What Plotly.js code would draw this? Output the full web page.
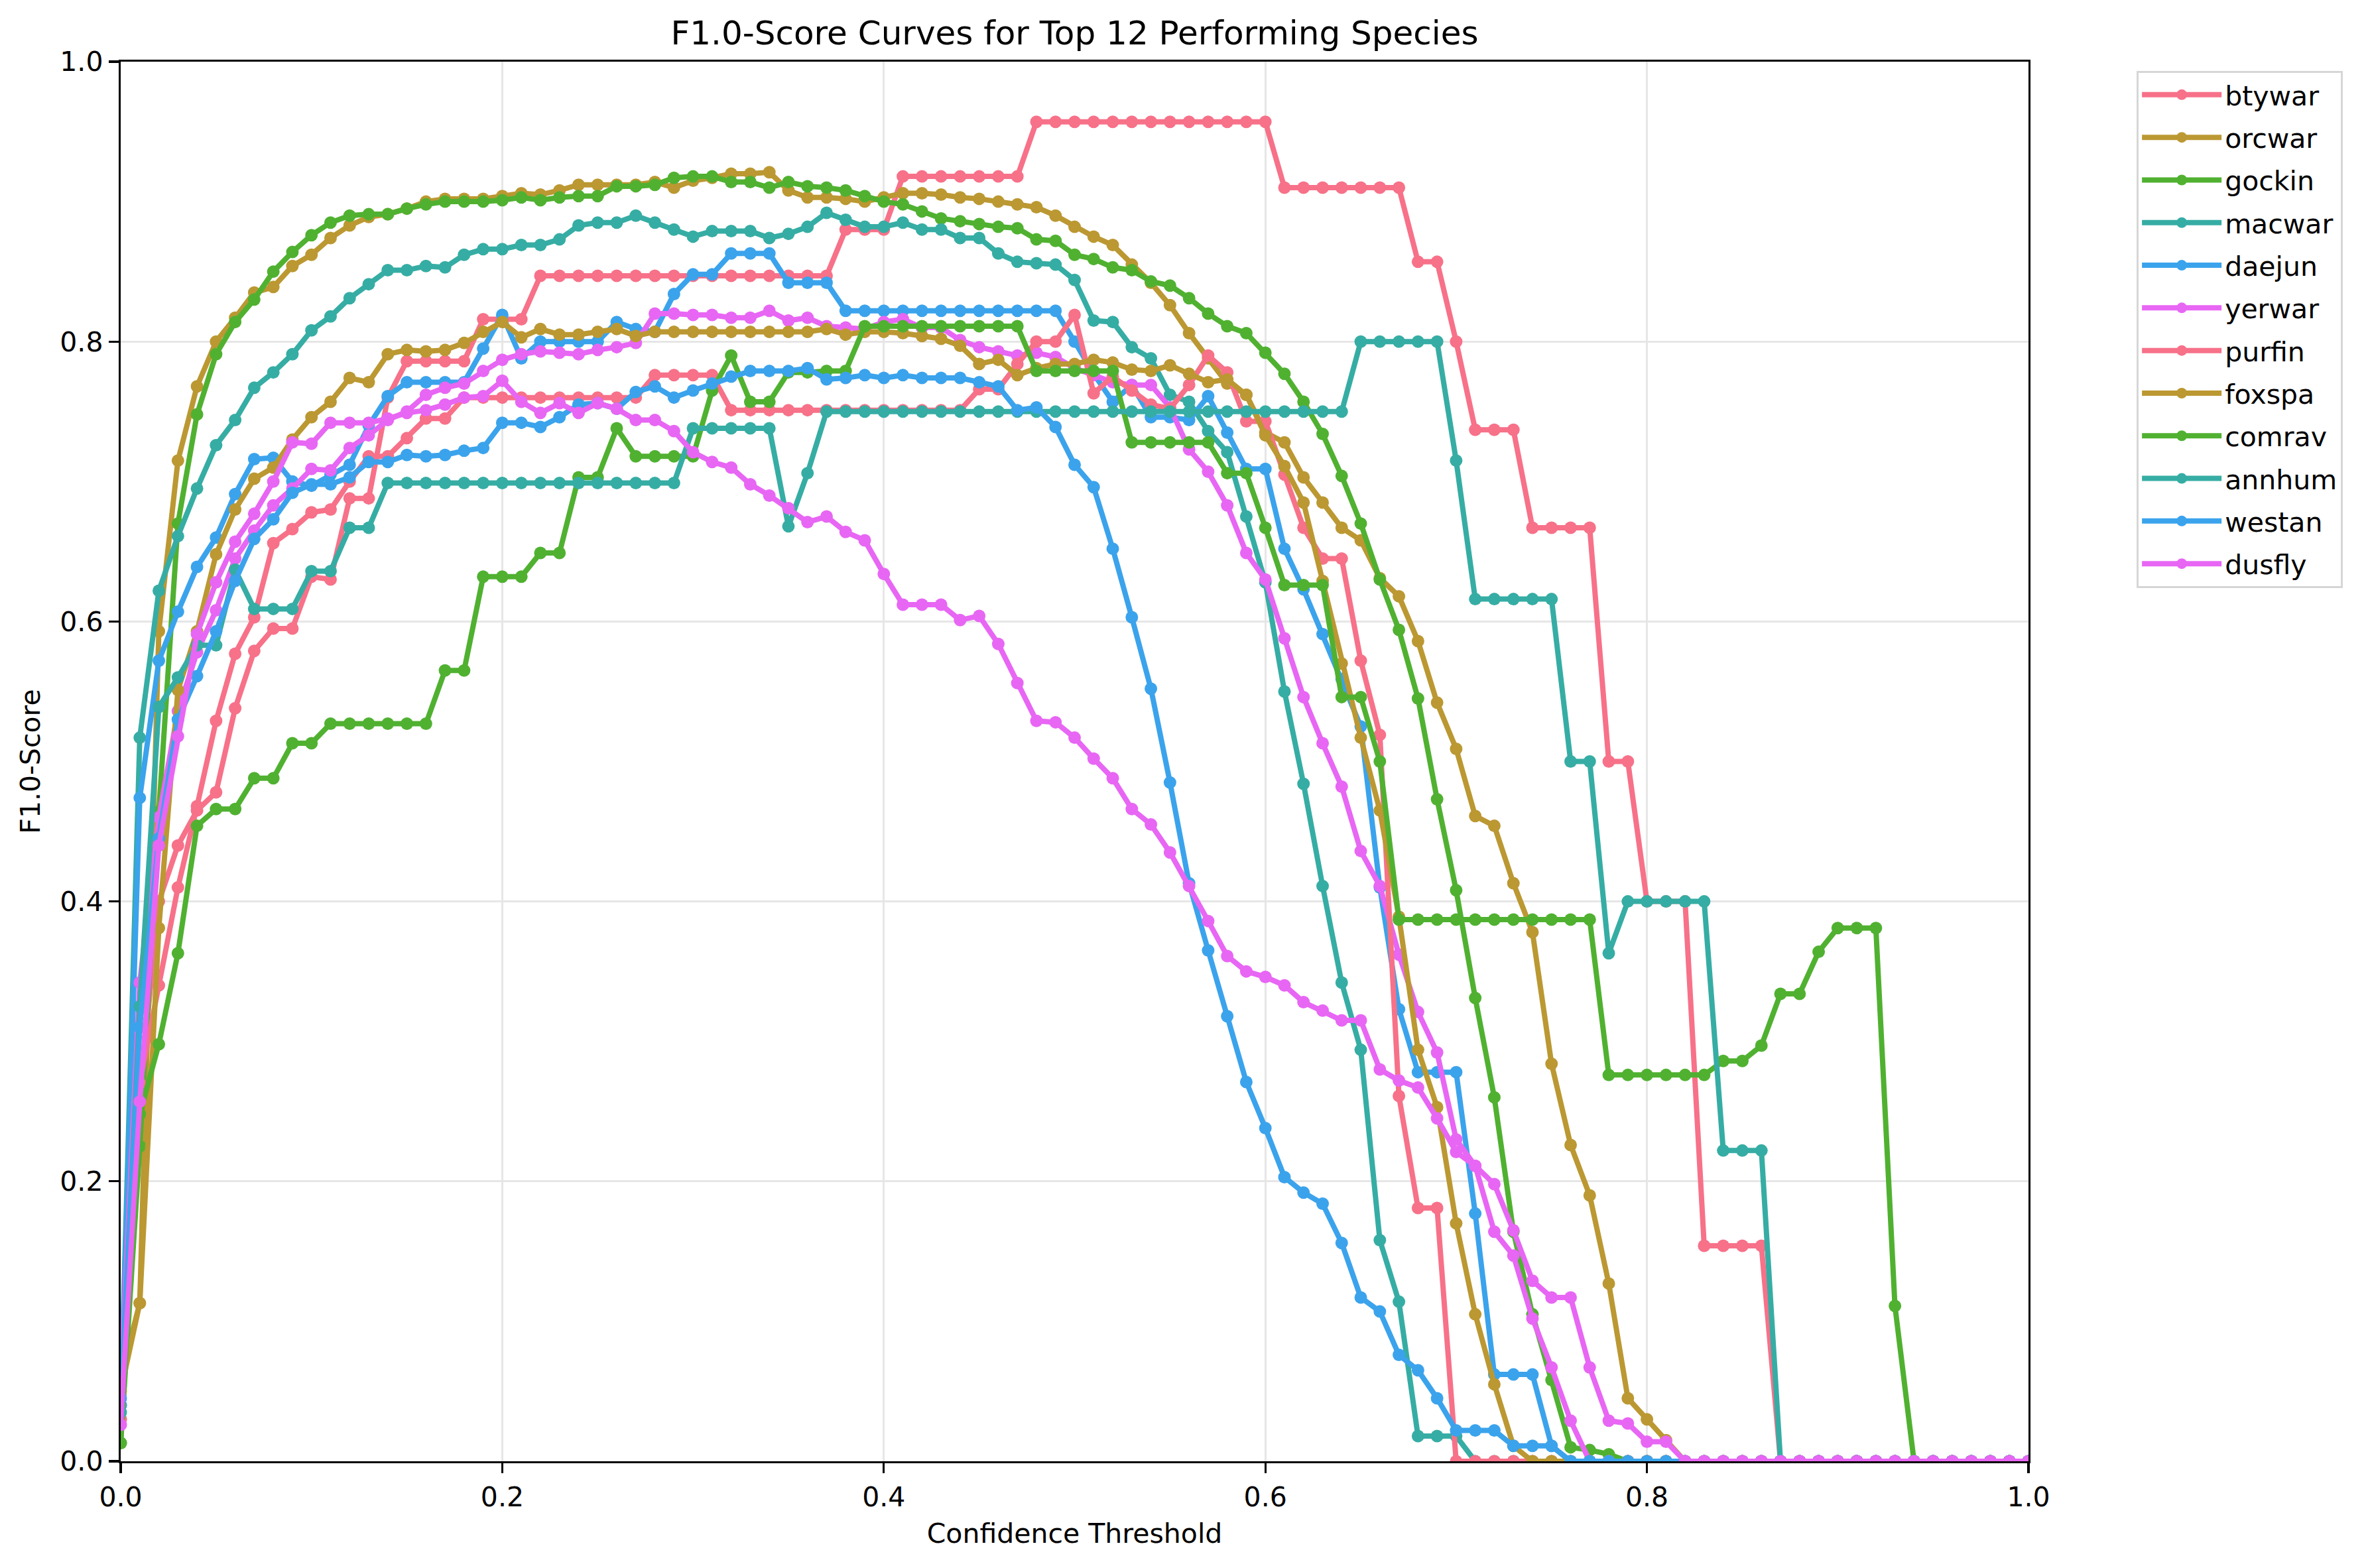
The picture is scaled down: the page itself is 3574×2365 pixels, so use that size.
<!DOCTYPE html>
<html>
<head>
<meta charset="utf-8">
<script src="https://cdn.plot.ly/plotly-3.0.1.min.js"></script>
<style>
  html, body { margin: 0; padding: 0; background: #ffffff; }
  #chart { width: 3574px; height: 2365px; }
</style>
</head>
<body>
<div id="chart"></div>
<script>
// Confidence thresholds shared by every species curve
const thresholds = [
  0.00,0.01,0.02,0.03,0.04,0.05,0.06,0.07,0.08,0.09,
  0.10,0.11,0.12,0.13,0.14,0.15,0.16,0.17,0.18,0.19,
  0.20,0.21,0.22,0.23,0.24,0.25,0.26,0.27,0.28,0.29,
  0.30,0.31,0.32,0.33,0.34,0.35,0.36,0.37,0.38,0.39,
  0.40,0.41,0.42,0.43,0.44,0.45,0.46,0.47,0.48,0.49,
  0.50,0.51,0.52,0.53,0.54,0.55,0.56,0.57,0.58,0.59,
  0.60,0.61,0.62,0.63,0.64,0.65,0.66,0.67,0.68,0.69,
  0.70,0.71,0.72,0.73,0.74,0.75,0.76,0.77,0.78,0.79,
  0.80,0.81,0.82,0.83,0.84,0.85,0.86,0.87,0.88,0.89,
  0.90,0.91,0.92,0.93,0.94,0.95,0.96,0.97,0.98,0.99,
  1.00
];

// F1.0-score per threshold, one list per species
const btywar = [
  0.03,0.26,0.40,0.44,0.465,0.478,0.538,0.579,0.595,0.595,
  0.632,0.630,0.688,0.688,0.760,0.786,0.786,0.786,0.786,0.816,
  0.816,0.816,0.847,0.847,0.847,0.847,0.847,0.847,0.847,0.847,
  0.847,0.847,0.847,0.847,0.847,0.847,0.847,0.847,0.880,0.880,
  0.880,0.918,0.918,0.918,0.918,0.918,0.918,0.918,0.957,0.957,
  0.957,0.957,0.957,0.957,0.957,0.957,0.957,0.957,0.957,0.957,
  0.957,0.910,0.910,0.910,0.910,0.910,0.910,0.910,0.857,0.857,
  0.800,0.737,0.737,0.737,0.667,0.667,0.667,0.667,0.500,0.500,
  0.400,0.400,0.400,0.154,0.154,0.154,0.154,0,0,0,
  0,0,0,0,0,0,0,0,0,0,
  0
];
const orcwar = [
  0.06,0.113,0.593,0.715,0.768,0.800,0.817,0.835,0.839,0.854,
  0.862,0.874,0.883,0.889,0.891,0.895,0.900,0.902,0.902,0.902,
  0.904,0.906,0.905,0.908,0.912,0.912,0.912,0.912,0.914,0.910,
  0.915,0.917,0.920,0.920,0.921,0.908,0.903,0.903,0.902,0.900,
  0.903,0.906,0.906,0.905,0.903,0.902,0.900,0.898,0.896,0.890,
  0.882,0.875,0.869,0.855,0.842,0.826,0.806,0.788,0.770,0.762,
  0.735,0.728,0.703,0.685,0.667,0.658,0.631,0.618,0.586,0.542,
  0.509,0.461,0.454,0.413,0.378,0.284,0.226,0.190,0.127,0.045,
  0.030,0.015,0,0,0,0,0,0,0,0,
  0,0,0,0,0,0,0,0,0,0,
  0
];
const gockin = [
  0.013,0.225,0.464,0.670,0.748,0.791,0.814,0.830,0.850,0.864,
  0.876,0.885,0.890,0.891,0.891,0.895,0.898,0.900,0.900,0.900,
  0.901,0.903,0.901,0.903,0.904,0.904,0.911,0.911,0.912,0.917,
  0.918,0.918,0.914,0.914,0.910,0.914,0.911,0.910,0.908,0.904,
  0.900,0.898,0.893,0.888,0.886,0.884,0.882,0.881,0.873,0.872,
  0.862,0.859,0.853,0.851,0.843,0.840,0.831,0.820,0.811,0.806,
  0.792,0.777,0.757,0.734,0.704,0.670,0.630,0.594,0.545,0.473,
  0.408,0.331,0.260,0.164,0.105,0.058,0.010,0.008,0.005,0,
  0,0,0,0,0,0,0,0,0,0,
  0,0,0,0,0,0,0,0,0,0,
  0
];
const macwar = [
  0.04,0.517,0.622,0.661,0.695,0.726,0.744,0.767,0.778,0.791,
  0.808,0.818,0.831,0.841,0.851,0.851,0.854,0.853,0.862,0.866,
  0.866,0.869,0.869,0.873,0.883,0.885,0.885,0.890,0.885,0.880,
  0.875,0.879,0.879,0.879,0.874,0.877,0.882,0.892,0.887,0.882,
  0.882,0.885,0.880,0.880,0.874,0.874,0.863,0.857,0.856,0.855,
  0.844,0.815,0.814,0.796,0.788,0.762,0.757,0.736,0.721,0.675,
  0.628,0.550,0.484,0.411,0.342,0.294,0.158,0.114,0.018,0.018,
  0.018,0,0,0,0,0,0,0,0,0,
  0,0,0,0,0,0,0,0,0,0,
  0,0,0,0,0,0,0,0,0,0,
  0
];
const daejun = [
  0.04,0.474,0.572,0.607,0.639,0.660,0.691,0.716,0.717,0.700,
  0.697,0.705,0.712,0.740,0.761,0.771,0.771,0.771,0.771,0.795,
  0.819,0.788,0.800,0.800,0.800,0.800,0.814,0.809,0.807,0.834,
  0.848,0.848,0.863,0.863,0.863,0.842,0.842,0.842,0.822,0.822,
  0.822,0.822,0.822,0.822,0.822,0.822,0.822,0.822,0.822,0.822,
  0.800,0.777,0.757,0.769,0.746,0.746,0.744,0.761,0.735,0.709,
  0.709,0.652,0.623,0.591,0.559,0.525,0.410,0.323,0.278,0.278,
  0.278,0.177,0.062,0.062,0.062,0.011,0,0,0,0,
  0,0,0,0,0,0,0,0,0,0,
  0,0,0,0,0,0,0,0,0,0,
  0
];
const yerwar = [
  0.054,0.342,0.46,0.536,0.578,0.608,0.645,0.665,0.683,0.695,
  0.709,0.708,0.724,0.733,0.744,0.750,0.762,0.767,0.770,0.779,
  0.787,0.791,0.793,0.792,0.791,0.794,0.796,0.799,0.820,0.820,
  0.819,0.819,0.817,0.817,0.822,0.815,0.817,0.811,0.810,0.809,
  0.814,0.816,0.810,0.810,0.801,0.796,0.793,0.790,0.792,0.789,
  0.781,0.776,0.771,0.769,0.769,0.753,0.723,0.707,0.683,0.649,
  0.630,0.588,0.546,0.513,0.482,0.436,0.411,0.362,0.321,0.292,
  0.230,0.211,0.164,0.147,0.102,0.067,0.029,0,0,0,
  0,0,0,0,0,0,0,0,0,0,
  0,0,0,0,0,0,0,0,0,0,
  0
];
const purfin = [
  0.03,0.27,0.34,0.41,0.468,0.529,0.577,0.603,0.656,0.666,
  0.678,0.680,0.700,0.718,0.718,0.731,0.745,0.745,0.760,0.760,
  0.760,0.760,0.760,0.760,0.760,0.760,0.760,0.760,0.776,0.776,
  0.776,0.776,0.751,0.751,0.751,0.751,0.751,0.751,0.751,0.751,
  0.751,0.751,0.751,0.751,0.751,0.766,0.766,0.784,0.800,0.800,
  0.819,0.763,0.775,0.765,0.755,0.752,0.769,0.790,0.778,0.743,
  0.743,0.705,0.667,0.645,0.645,0.572,0.519,0.261,0.181,0.181,
  0,0,0,0,0,0,0,0,0,0,
  0,0,0,0,0,0,0,0,0,0,
  0,0,0,0,0,0,0,0,0,0,
  0
];
const foxspa = [
  0.05,0.113,0.381,0.551,0.593,0.648,0.680,0.702,0.710,0.730,
  0.746,0.757,0.774,0.771,0.791,0.794,0.793,0.794,0.799,0.807,
  0.814,0.803,0.809,0.805,0.805,0.807,0.809,0.804,0.807,0.807,
  0.807,0.807,0.807,0.807,0.807,0.807,0.807,0.809,0.805,0.807,
  0.807,0.806,0.804,0.802,0.797,0.784,0.787,0.776,0.781,0.784,
  0.784,0.787,0.785,0.780,0.779,0.783,0.777,0.771,0.773,0.762,
  0.733,0.711,0.685,0.629,0.570,0.517,0.465,0.389,0.294,0.253,
  0.170,0.105,0.055,0.011,0,0,0,0,0,0,
  0,0,0,0,0,0,0,0,0,0,
  0,0,0,0,0,0,0,0,0,0,
  0
];
const comrav = [
  0.013,0.248,0.298,0.363,0.454,0.466,0.466,0.488,0.488,0.513,
  0.513,0.527,0.527,0.527,0.527,0.527,0.527,0.565,0.565,0.632,
  0.632,0.632,0.649,0.649,0.703,0.703,0.738,0.718,0.718,0.718,
  0.718,0.765,0.790,0.757,0.757,0.778,0.778,0.779,0.779,0.811,
  0.811,0.811,0.811,0.811,0.811,0.811,0.811,0.811,0.779,0.779,
  0.779,0.779,0.779,0.728,0.728,0.728,0.728,0.728,0.706,0.706,
  0.667,0.626,0.626,0.626,0.546,0.546,0.500,0.387,0.387,0.387,
  0.387,0.387,0.387,0.387,0.387,0.387,0.387,0.387,0.276,0.276,
  0.276,0.276,0.276,0.276,0.286,0.286,0.297,0.334,0.334,0.364,
  0.381,0.381,0.381,0.111,0,0,0,0,0,0,
  0
];
const annhum = [
  0.035,0.325,0.539,0.560,0.583,0.583,0.637,0.609,0.609,0.609,
  0.636,0.636,0.667,0.667,0.699,0.699,0.699,0.699,0.699,0.699,
  0.699,0.699,0.699,0.699,0.699,0.699,0.699,0.699,0.699,0.699,
  0.738,0.738,0.738,0.738,0.738,0.668,0.706,0.750,0.750,0.750,
  0.750,0.750,0.750,0.750,0.750,0.750,0.750,0.750,0.750,0.750,
  0.750,0.750,0.750,0.750,0.750,0.750,0.750,0.750,0.750,0.750,
  0.750,0.750,0.750,0.750,0.750,0.800,0.800,0.800,0.800,0.800,
  0.715,0.616,0.616,0.616,0.616,0.616,0.500,0.500,0.363,0.400,
  0.400,0.400,0.400,0.400,0.222,0.222,0.222,0,0,0,
  0,0,0,0,0,0,0,0,0,0,
  0
];
const westan = [
  0.045,0.31,0.445,0.53,0.561,0.593,0.629,0.659,0.673,0.692,
  0.698,0.698,0.703,0.714,0.714,0.719,0.718,0.719,0.722,0.724,
  0.742,0.742,0.739,0.746,0.755,0.756,0.752,0.764,0.768,0.760,
  0.765,0.770,0.775,0.779,0.779,0.779,0.781,0.773,0.774,0.776,
  0.774,0.776,0.774,0.774,0.774,0.771,0.768,0.751,0.753,0.739,
  0.712,0.696,0.652,0.603,0.552,0.485,0.413,0.365,0.318,0.271,
  0.238,0.203,0.192,0.184,0.156,0.117,0.107,0.076,0.065,0.045,
  0.022,0.022,0.022,0.011,0.011,0.011,0,0,0,0,
  0,0,0,0,0,0,0,0,0,0,
  0,0,0,0,0,0,0,0,0,0,
  0
];
const dusfly = [
  0.026,0.257,0.44,0.518,0.591,0.628,0.657,0.677,0.700,0.728,
  0.727,0.742,0.742,0.742,0.745,0.749,0.751,0.755,0.760,0.761,
  0.772,0.757,0.749,0.756,0.749,0.756,0.752,0.744,0.744,0.736,
  0.721,0.714,0.710,0.698,0.690,0.681,0.671,0.675,0.664,0.658,
  0.634,0.612,0.612,0.612,0.601,0.604,0.584,0.556,0.529,0.528,
  0.517,0.502,0.488,0.466,0.455,0.435,0.411,0.386,0.361,0.350,
  0.346,0.340,0.328,0.322,0.315,0.315,0.280,0.272,0.267,0.245,
  0.221,0.211,0.198,0.165,0.129,0.117,0.117,0.067,0.029,0.027,
  0.014,0.014,0,0,0,0,0,0,0,0,
  0,0,0,0,0,0,0,0,0,0,
  0
];

const speciesNames = ['btywar','orcwar','gockin','macwar','daejun','yerwar',
                      'purfin','foxspa','comrav','annhum','westan','dusfly'];
const speciesScores = [btywar, orcwar, gockin, macwar, daejun, yerwar,
                       purfin, foxspa, comrav, annhum, westan, dusfly];
// six-hue palette, cycled over the twelve species
const palette = ['#f77189','#bb9832','#50b131','#36ada4','#3ba3ec','#e866f4'];

const traces = speciesNames.map((name, i) => ({
  type: 'scatter',
  mode: 'lines+markers',
  name: name,
  legendgroup: name,
  x: thresholds,
  y: speciesScores[i],
  line: { color: palette[i % palette.length], width: 8 },
  marker: { color: palette[i % palette.length], size: 19 },
  cliponaxis: true
}));

const axisCommon = {
  range: [0, 1],
  autorange: false,
  showline: true,
  mirror: true,
  linecolor: '#000000',
  linewidth: 3.3,
  ticks: 'outside',
  ticklen: 15,
  tickwidth: 3.3,
  tickcolor: '#000000',
  tickvals: [0, 0.2, 0.4, 0.6, 0.8, 1.0],
  ticktext: ['0.0', '0.2', '0.4', '0.6', '0.8', '1.0'],
  tickfont: { family: 'DejaVu Sans', size: 41, color: '#000000' },
  showgrid: true,
  gridcolor: '#e6e6e6',
  gridwidth: 3.3,
  zeroline: false
};

const layout = {
  width: 3574,
  height: 2365,
  paper_bgcolor: '#ffffff',
  plot_bgcolor: '#ffffff',
  font: { family: 'DejaVu Sans', color: '#000000' },
  margin: { l: 182, r: 515, t: 93, b: 161, pad: 0 },
  title: {
    text: 'F1.0-Score Curves for Top 12 Performing Species',
    font: { family: 'DejaVu Sans', size: 50, color: '#000000' },
    x: 0.5, xref: 'paper', xanchor: 'center',
    y: 0.979, yref: 'container', yanchor: 'middle'
  },
  xaxis: Object.assign({}, axisCommon, {
    title: { text: 'Confidence Threshold', font: { family: 'DejaVu Sans', size: 41, color: '#000000' }, standoff: 18 }
  }),
  yaxis: Object.assign({}, axisCommon, {
    title: { text: 'F1.0-Score', font: { family: 'DejaVu Sans', size: 41, color: '#000000' }, standoff: 18 }
  }),
  showlegend: true,
  legend: {
    x: 1.0567, xref: 'paper', xanchor: 'left',
    y: 0.9935, yref: 'paper', yanchor: 'top',
    bgcolor: 'rgba(255,255,255,0.8)',
    bordercolor: '#d6d6d6',
    borderwidth: 3,
    font: { family: 'DejaVu Sans', size: 41, color: '#000000' },
    traceorder: 'grouped',
    tracegroupgap: 8,
    itemwidth: 120
  },
  hovermode: false
};

Plotly.newPlot('chart', traces, layout, { staticPlot: true, displayModeBar: false });
</script>
</body>
</html>
